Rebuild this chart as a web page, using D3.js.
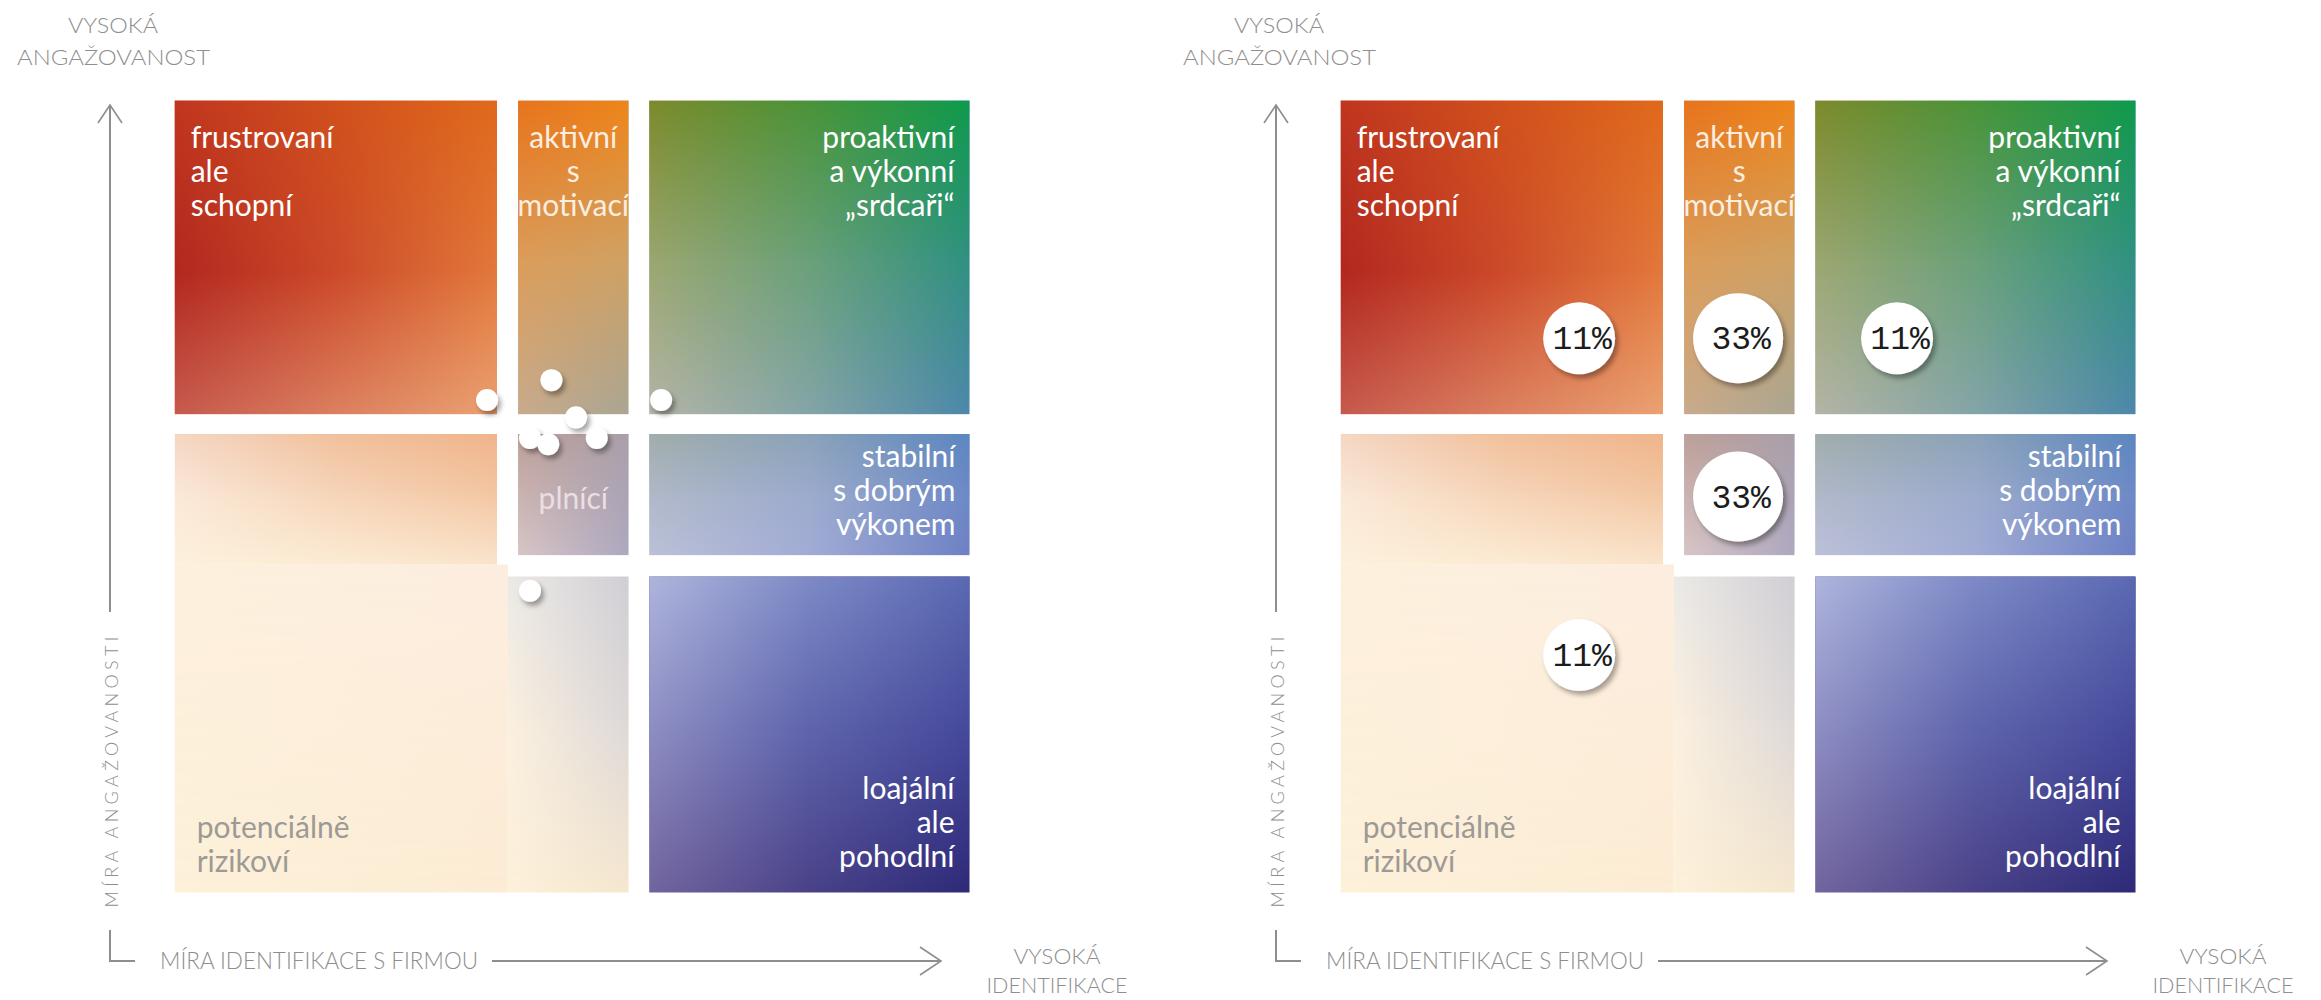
<!DOCTYPE html>
<html><head><meta charset="utf-8">
<script src="https://cdn.jsdelivr.net/npm/d3@7"></script>
<style>body{margin:0;background:#fff;} svg{display:block;}</style>
</head><body>
<svg id="chart" width="2321" height="1000"></svg>
<script>
// ---------------- DATA ----------------
// Segments of the engagement / identification matrix (values in score units 0–100)
const segmentIds    = ["r1c1","r1c2","r1c3","r2c1","r2c2","r2c3","r3c1","r3c2","r3c3"];
const segmentIdentFrom = [0, 43.2, 59.7, 0, 43.2, 59.7, 0, 41.9, 59.7];
const segmentIdentTo   = [40.55, 57.1, 100, 40.55, 57.1, 100, 41.9, 57.1, 100];
const segmentEngFrom   = [60.4, 60.4, 60.4, 41.4, 42.6, 42.6, 0, 0, 0];
const segmentEngTo     = [100, 100, 100, 57.9, 57.9, 57.9, 41.4, 39.9, 39.9];
const segmentLabels = [
  ["frustrovaní","ale","schopní"],
  ["aktivní","s","motivací"],
  ["proaktivní","a výkonní","„srdcaři“"],
  [],
  ["plnící"],
  ["stabilní","s dobrým","výkonem"],
  ["potenciálně","rizikoví"],
  [],
  ["loajální","ale","pohodlní"]
];

// Left panel: individual respondents
const respondentIdent  = [39.3, 47.4, 61.2, 50.5, 44.7, 47.0, 53.1, 44.7];
const respondentEngage = [62.2, 64.7, 62.2, 60.0, 57.4, 56.6, 57.4, 38.1];

// Right panel: share of respondents per segment
const shareIdent  = [30, 50, 70, 50, 30];
const shareEngage = [70, 70, 70, 50, 30];
const shareValue  = [11, 33, 11, 33, 11];

// Axis texts
const yAxisTop   = ["VYSOKÁ", "ANGAŽOVANOST"];
const yAxisTitle = "MÍRA ANGAŽOVANOSTI";
const xAxisTitle = "MÍRA IDENTIFIKACE S FIRMOU";
const xAxisEnd   = ["VYSOKÁ", "IDENTIFIKACE"];

// ---------------- STYLE / LAYOUT ----------------
const cellStyle = {
  r1c1: {stops:[0,0.55,1], rows:[["#c0361f","#d0501c","#e0691b"],["#b2281f","#cc4a2a","#e2793c"],["#c65a4e","#dc8060","#eba272"]]},
  r1c2: {stops:[0,0.5,1],  rows:[["#e7731d","#ee8519"],["#dc9c58","#cfa163"],["#c9ab8c","#aaa693"]]},
  r1c3: {stops:[0,0.5,1],  rows:[["#7c8a2b","#4a9338","#0e9a4b"],["#9aa66e","#69a078","#2f9180"],["#b4b5a6","#84a5a8","#4d88aa"]]},
  r2c1: {stops:[0,0.45,1], rows:[["#f4d6c3","#f1c09c","#efb48a"],["#fae8d8","#f6d4b8","#f3c6a2"],["#fdf1dc","#fcecd5","#fae4cc"]]},
  r2c2: {stops:[0,1],      rows:[["#bd9f98","#a99fa9"],["#d8c6c7","#aea8c0"]]},
  r2c3: {stops:[0,0.5,1],  rows:[["#a0adaa","#8aa2b8","#5c86c0"],["#b0b8c8","#9cabcc","#6d8ac6"],["#bcc1d9","#a2acd6","#6e80c5"]]},
  r3c1: {stops:[0,1],      rows:[["#fdf0dc","#fcede0"],["#fdf1da","#fcecd4"]]},
  r3c2: {stops:[0,0.45,1], rows:[["#ebe9e6","#d0ced5"],["#fbf0df","#dcd8d8"],["#fdf1da","#f6e7cf"]]},
  r3c3: {stops:[0,0.5,1],  rows:[["#aeb5dc","#7d8ac6","#5a69b2"],["#8d8dc2","#5e63ab","#45489a"],["#72659e","#4a4288","#2e2a78"]]}
};
const labelStyle = {
  r1c1:{anchor:"start", from:"top", dx:16, dy:47, color:"#fff"},
  r1c2:{anchor:"middle",from:"top", dx:0,  dy:47, color:"#fbeee0", clip:true},
  r1c3:{anchor:"end",   from:"top", dx:-15,dy:47, color:"#fff"},
  r2c2:{anchor:"middle",from:"mid", dx:0,  dy:14, color:"#eadfe2", hideUnderShares:true},
  r2c3:{anchor:"end",   from:"top", dx:-14,dy:33, color:"#fff"},
  r3c1:{anchor:"start", from:"bottom", dx:22, dy:-21, color:"#9d9a96"},
  r3c3:{anchor:"end",   from:"bottom", dx:-15,dy:-26, color:"#fff"}
};
const lineGap = 34;
const panelOffsets = [0, 1166];
const font = "Lato, 'Noto Sans', sans-serif";
const axisColor = "#8e8e8e";

const svg = d3.select("#chart");
const defs = svg.append("defs");

// drop shadow
const sh = defs.append("filter").attr("id","shadow").attr("x","-50%").attr("y","-50%").attr("width","200%").attr("height","200%");
sh.append("feDropShadow").attr("dx",3).attr("dy",4).attr("stdDeviation",2.5).attr("flood-color","#000").attr("flood-opacity",0.35);

// gradient definitions (bilinear through stacked masked layers)
segmentIds.forEach(id => {
  const st = cellStyle[id];
  st.rows.forEach((row, i) => {
    const lg = defs.append("linearGradient").attr("id", `${id}-row${i}`)
      .attr("x1",0).attr("y1",0).attr("x2",1).attr("y2",0);
    row.forEach((c, j) => lg.append("stop").attr("offset", row.length === 1 ? 0 : j/(row.length-1)).attr("stop-color", c));
    if (i < st.rows.length - 1) {
      const mg = defs.append("linearGradient").attr("id", `${id}-mg${i}`)
        .attr("x1",0).attr("y1",0).attr("x2",0).attr("y2",1);
      mg.append("stop").attr("offset",0).attr("stop-color","#fff");
      mg.append("stop").attr("offset",st.stops[i]).attr("stop-color","#fff");
      mg.append("stop").attr("offset",st.stops[i+1]).attr("stop-color","#000");
      mg.append("stop").attr("offset",1).attr("stop-color","#000");
      defs.append("mask").attr("id", `${id}-m${i}`).attr("maskContentUnits","objectBoundingBox")
        .append("rect").attr("x",0).attr("y",0).attr("width",1).attr("height",1).attr("fill",`url(#${id}-mg${i})`);
    }
  });
});

const x = d3.scaleLinear().domain([0,100]).range([174.7, 969.5]);
const y = d3.scaleLinear().domain([0,100]).range([892.5, 100.6]);
const r = d3.scaleLinear().domain([11,33]).range([36,45]);

const segments = segmentIds.map((id,i)=>({id, x0:segmentIdentFrom[i], x1:segmentIdentTo[i], y0:segmentEngFrom[i], y1:segmentEngTo[i], lines:segmentLabels[i]}));

function drawPanel(pi, withShares) {
  const off = panelOffsets[pi];
  const g = svg.append("g").attr("transform", `translate(${off},0)`);

  segments.forEach(s => {
    defs.append("clipPath").attr("id", `clip-${pi}-${s.id}`)
      .append("rect").attr("x", x(s.x0)).attr("y", y(s.y1))
      .attr("width", x(s.x1)-x(s.x0)).attr("height", y(s.y0)-y(s.y1));
  });

  const cells = g.selectAll("g.cell").data(segments).join("g").attr("class","cell");
  cells.each(function(s){
    const st = cellStyle[s.id];
    const cg = d3.select(this);
    for (let i = st.rows.length - 1; i >= 0; i--) {
      const rect = cg.append("rect")
        .attr("x", x(s.x0)).attr("y", y(s.y1))
        .attr("width", x(s.x1)-x(s.x0)).attr("height", y(s.y0)-y(s.y1))
        .attr("fill", `url(#${s.id}-row${i})`);
      if (i < st.rows.length - 1) rect.attr("mask", `url(#${s.id}-m${i})`);
    }
  });

  segments.forEach(s => {
    if (!s.lines.length) return;
    const ls = labelStyle[s.id];
    if (withShares && ls.hideUnderShares) return; // covered by the share bubble
    let ax = ls.anchor === "start" ? x(s.x0) : ls.anchor === "end" ? x(s.x1) : (x(s.x0)+x(s.x1))/2;
    ax += ls.dx;
    let firstBase;
    if (ls.from === "top") firstBase = y(s.y1) + ls.dy;
    else if (ls.from === "bottom") firstBase = y(s.y0) + ls.dy - (s.lines.length-1)*lineGap;
    else firstBase = (y(s.y0)+y(s.y1))/2 + ls.dy - (s.lines.length-1)*lineGap/2;
    const t = g.append("text").attr("font-family", font).attr("font-size", 30)
      .attr("fill", ls.color).attr("text-anchor", ls.anchor);
    if (ls.clip) t.attr("clip-path", `url(#clip-${pi}-${s.id})`);
    s.lines.forEach((ln, k) => t.append("tspan").attr("x", ax).attr("y", firstBase + k*lineGap).text(ln));
  });

  const ax = g.append("g").attr("fill","none").attr("stroke", axisColor).attr("stroke-width", 2);
  ax.append("path").attr("d", "M110,106V612");
  ax.append("path").attr("d", "M98,123L110,105L122,123").attr("stroke-width",1.6);
  ax.append("path").attr("d", "M110,930V961H135");
  ax.append("path").attr("d", "M492,961H940");
  ax.append("path").attr("d", "M920,947L941,961L920,975").attr("stroke-width",1.6);

  const tx = g.append("g").attr("font-family", font).attr("font-weight", 300).attr("fill", axisColor);
  tx.append("text").attr("x",113).attr("y",33).attr("text-anchor","middle").attr("font-size",22)
    .attr("textLength",90).attr("lengthAdjust","spacingAndGlyphs").text(yAxisTop[0]);
  tx.append("text").attr("x",113.5).attr("y",65).attr("text-anchor","middle").attr("font-size",22)
    .attr("textLength",193).attr("lengthAdjust","spacingAndGlyphs").text(yAxisTop[1]);
  tx.append("text").attr("transform","translate(118,772) rotate(-90)").attr("text-anchor","middle").attr("font-size",18)
    .attr("textLength",271).attr("lengthAdjust","spacing").text(yAxisTitle);
  tx.append("text").attr("x",160).attr("y",969).attr("font-size",23)
    .attr("textLength",318).attr("lengthAdjust","spacingAndGlyphs").text(xAxisTitle);
  tx.append("text").attr("x",1057).attr("y",964).attr("text-anchor","middle").attr("font-size",22)
    .attr("textLength",87).attr("lengthAdjust","spacingAndGlyphs").text(xAxisEnd[0]);
  tx.append("text").attr("x",1057).attr("y",993).attr("text-anchor","middle").attr("font-size",22)
    .attr("textLength",141).attr("lengthAdjust","spacingAndGlyphs").text(xAxisEnd[1]);

  return g;
}

// ---- left panel: respondents ----
const gl = drawPanel(0, false);
gl.selectAll("circle.resp").data(respondentIdent.map((v,i)=>({ident:v, eng:respondentEngage[i]})))
  .join("circle").attr("class","resp")
  .attr("cx", d=>x(d.ident)).attr("cy", d=>y(d.eng)).attr("r", 11)
  .attr("fill","#fff").attr("filter","url(#shadow)");

// ---- right panel: shares ----
const gr = drawPanel(1, true);
const shares = shareValue.map((v,i)=>({v, ident:shareIdent[i], eng:shareEngage[i]}));
const bub = gr.selectAll("g.share").data(shares).join("g").attr("class","share")
  .attr("transform", d=>`translate(${x(d.ident)},${y(d.eng)})`);
bub.append("circle").attr("r", d=>r(d.v)).attr("fill","#fff").attr("filter","url(#shadow)");
bub.append("text").attr("x",3).attr("y",11).attr("text-anchor","middle")
  .attr("font-family","'Liberation Mono', monospace").attr("font-size",33)
  .attr("fill","#1c1c1c").text(d=>d.v+"%");
</script>
</body></html>
